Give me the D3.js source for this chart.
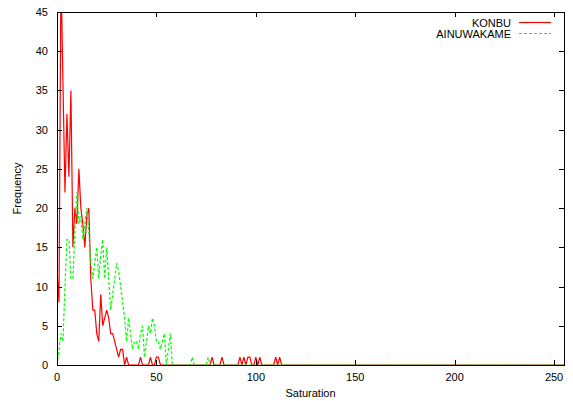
<!DOCTYPE html>
<html>
<head>
<meta charset="utf-8">
<script src="https://cdn.jsdelivr.net/npm/d3@7"></script>
<style>
  body { margin: 0; background: #fff; }
  svg { display: block; font-family: "Liberation Sans", Arial, sans-serif; }
</style>
</head>
<body>
<div id="chart"></div>
<script>
// Histogram of saturation values, two samples (gnuplot style)
const seriesNames = ["KONBU", "AINUWAKAME"];
const xTicks = [0, 50, 100, 150, 200, 250];
const yTicks = [0, 5, 10, 15, 20, 25, 30, 35, 40, 45];

// counts for saturation 0..58, everything after is 0 except the listed ones
const konbuHead = [12, 8, 50, 36, 22, 32, 24, 35, 15, 20, 18, 25, 20, 18, 15, 19, 20, 11, 7, 7,
  4, 3, 9, 5, 6, 7, 6, 4, 4, 3, 2, 1, 2, 2, 0, 1, 0, 0, 0, 0,
  0, 0, 1, 0, 0, 0, 0, 1, 0, 0, 1, 1, 0, 0, 0, 0, 0, 0, 0];
const konbuOnes = [78, 83, 92, 94, 96, 97, 100, 102, 110, 112];

const ainuHead = [0, 2, 4, 3, 10, 16, 16, 11, 11, 17, 22, 18, 19, 16, 18, 20, 17, 13, 11, 13,
  15, 11, 14, 16, 11, 15, 11, 7, 9, 11, 13, 12, 10, 8, 6, 3, 6, 4, 2, 3,
  3, 2, 4, 5, 1, 3, 5, 4, 6, 5, 3, 3, 2, 3, 4, 0, 2, 4, 0];
const ainuOnes = [68, 76];

function fullSeries(head, ones) {
  const out = [];
  for (let v = 0; v <= 255; v++) {
    let c = v < head.length ? head[v] : 0;
    if (ones.includes(v)) c = 1;
    out.push({ v: v, c: c });
  }
  return out;
}

const series = [fullSeries(konbuHead, konbuOnes), fullSeries(ainuHead, ainuOnes)];
const colors = ["#ff0000", "#00ff00"];
const dashes = [null, "3,2"];

const width = 573, height = 401;
const pLeft = 57, pRight = 564, pTop = 12, pBottom = 365;

const x = d3.scaleLinear().domain([0, 255]).range([pLeft, pRight]);
const y = d3.scaleLinear().domain([0, 45]).range([pBottom, pTop]);

const svg = d3.select("#chart").append("svg")
  .attr("width", width)
  .attr("height", height);

svg.append("defs").append("clipPath").attr("id", "plot-clip")
  .append("rect")
  .attr("x", pLeft).attr("y", pTop)
  .attr("width", pRight - pLeft).attr("height", pBottom - pTop);

// series lines
const line = d3.line().x(d => x(d.v)).y(d => y(d.c));
const plot = svg.append("g").attr("clip-path", "url(#plot-clip)");
series.forEach((s, i) => {
  plot.append("path")
    .datum(s)
    .attr("fill", "none")
    .attr("stroke", colors[i])
    .attr("stroke-width", 1.2)
    .attr("stroke-dasharray", dashes[i])
    .attr("d", line);
});

// frame and ticks
const axes = svg.append("g").attr("stroke", "#000").attr("stroke-width", 1);
axes.append("rect")
  .attr("x", pLeft + 0.5).attr("y", pTop + 0.5)
  .attr("width", pRight - pLeft).attr("height", pBottom - pTop)
  .attr("fill", "none");

const tickLen = 5;
xTicks.forEach(t => {
  const px = Math.round(x(t)) + 0.5;
  axes.append("line").attr("x1", px).attr("x2", px).attr("y1", pBottom).attr("y2", pBottom - tickLen);
  axes.append("line").attr("x1", px).attr("x2", px).attr("y1", pTop).attr("y2", pTop + tickLen);
});
yTicks.forEach(t => {
  const py = Math.round(y(t)) + 0.5;
  axes.append("line").attr("x1", pLeft).attr("x2", pLeft + tickLen).attr("y1", py).attr("y2", py);
  axes.append("line").attr("x1", pRight).attr("x2", pRight - tickLen).attr("y1", py).attr("y2", py);
});

// tick labels
svg.append("g").selectAll("text")
  .data(xTicks).enter().append("text")
  .attr("x", d => x(d))
  .attr("y", 381)
  .attr("text-anchor", "middle")
  .attr("font-size", 11)
  .text(d => d);

svg.append("g").selectAll("text")
  .data(yTicks).enter().append("text")
  .attr("x", 48)
  .attr("y", d => y(d) + 4)
  .attr("text-anchor", "end")
  .attr("font-size", 11)
  .text(d => d);

// axis titles
svg.append("text")
  .attr("x", (pLeft + pRight) / 2)
  .attr("y", 397)
  .attr("text-anchor", "middle")
  .attr("font-size", 11)
  .text("Saturation");

svg.append("text")
  .attr("transform", `translate(21,${(pTop + pBottom) / 2}) rotate(-90)`)
  .attr("text-anchor", "middle")
  .attr("font-size", 11)
  .text("Frequency");

// legend
const legend = svg.append("g");
seriesNames.forEach((name, i) => {
  const ly = 22.5 + i * 11;
  legend.append("text")
    .attr("x", 511)
    .attr("y", ly + 4)
    .attr("text-anchor", "end")
    .attr("font-size", 11)
    .text(name);
  legend.append("line")
    .attr("x1", 519).attr("x2", 551)
    .attr("y1", ly).attr("y2", ly)
    .attr("stroke", colors[i])
    .attr("stroke-width", 1.2)
    .attr("stroke-dasharray", dashes[i]);
});
</script>
</body>
</html>
